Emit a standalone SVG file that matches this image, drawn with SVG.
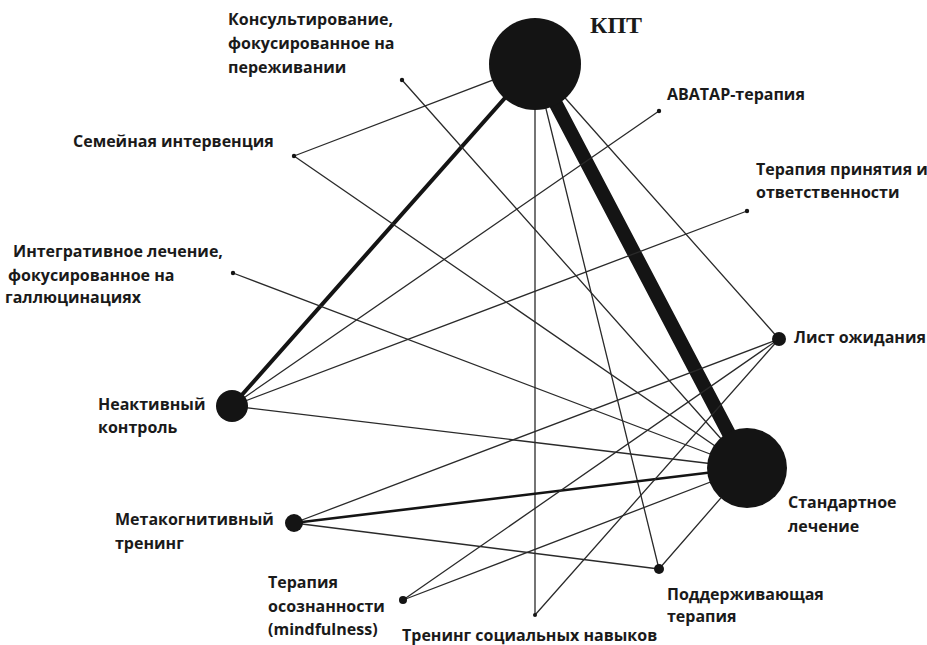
<svg xmlns="http://www.w3.org/2000/svg" width="927" height="645" viewBox="0 0 927 645">
<style>
.lbl{font-family:"Open Sans","Liberation Sans",sans-serif;font-weight:bold;font-size:16px;fill:#1a1a1a}
.kpt{font-family:"Liberation Serif","Times New Roman",serif;font-weight:bold;font-size:24px;fill:#1a1a1a}
.e{stroke:#2a2a2a;stroke-width:1.3;fill:none;stroke-linecap:round}
.n{fill:#141414}
</style>
<rect width="927" height="645" fill="#fff"/>
<g id="connectors">
<line class="e" x1="535" y1="64" x2="747" y2="468" style="stroke-width:14;stroke:#141414"/>
<line class="e" x1="535" y1="64" x2="232" y2="406" style="stroke-width:4;stroke:#141414"/>
<line class="e" x1="535" y1="64" x2="294" y2="156"/>
<line class="e" x1="535" y1="64" x2="535" y2="615"/>
<line class="e" x1="535" y1="64" x2="659" y2="569"/>
<line class="e" x1="535" y1="64" x2="779" y2="339"/>
<line class="e" x1="294" y1="156" x2="747" y2="468"/>
<line class="e" x1="402" y1="80" x2="747" y2="468"/>
<line class="e" x1="233" y1="273" x2="747" y2="468"/>
<line class="e" x1="232" y1="406" x2="659" y2="111"/>
<line class="e" x1="232" y1="406" x2="747" y2="211"/>
<line class="e" x1="232" y1="406" x2="747" y2="468"/>
<line class="e" x1="294" y1="523" x2="747" y2="468" style="stroke-width:2.6;stroke:#141414"/>
<line class="e" x1="294" y1="523" x2="779" y2="339"/>
<line class="e" x1="294" y1="523" x2="659" y2="569"/>
<line class="e" x1="403" y1="600" x2="779" y2="339"/>
<line class="e" x1="403" y1="600" x2="747" y2="468"/>
<line class="e" x1="535" y1="615" x2="779" y2="339"/>
<line class="e" x1="659" y1="569" x2="747" y2="468"/>
</g>
<g id="n-kpt"><circle class="n" cx="535" cy="64" r="46"/><text class="kpt" x="590" y="33">КПТ</text></g>
<g id="n-standard"><circle class="n" cx="747" cy="468" r="40"/><text class="lbl" x="788" y="508">Стандартное</text><text class="lbl" x="788" y="532">лечение</text></g>
<g id="n-inactive"><circle class="n" cx="232" cy="406" r="16"/><text class="lbl" x="98" y="410">Неактивный</text><text class="lbl" x="98" y="433">контроль</text></g>
<g id="n-metacog"><circle class="n" cx="294" cy="523" r="9"/><text class="lbl" x="115" y="525">Метакогнитивный</text><text class="lbl" x="115" y="549">тренинг</text></g>
<g id="n-waitlist"><circle class="n" cx="779" cy="339" r="7"/><text class="lbl" x="794" y="343">Лист ожидания</text></g>
<g id="n-supportive"><circle class="n" cx="659" cy="569" r="5"/><text class="lbl" x="667" y="600">Поддерживающая</text><text class="lbl" x="667" y="622">терапия</text></g>
<g id="n-mindfulness"><circle class="n" cx="403" cy="600" r="4"/><text class="lbl" x="268" y="588">Терапия</text><text class="lbl" x="268" y="612">осознанности</text><text class="lbl" x="268" y="635">(mindfulness)</text></g>
<g id="n-social"><circle class="n" cx="535" cy="615" r="2"/><text class="lbl" x="402" y="641">Тренинг социальных навыков</text></g>
<g id="n-avatar"><circle class="n" cx="659" cy="111" r="2.2"/><text class="lbl" x="667" y="100">АВАТАР-терапия</text></g>
<g id="n-act"><circle class="n" cx="747" cy="211" r="2.2"/><text class="lbl" x="756" y="175">Терапия принятия и</text><text class="lbl" x="756" y="198">ответственности</text></g>
<g id="n-counsel"><circle class="n" cx="402" cy="80" r="2.2"/><text class="lbl" x="228" y="25">Консультирование,</text><text class="lbl" x="228" y="49">фокусированное на</text><text class="lbl" x="228" y="73">переживании</text></g>
<g id="n-family"><circle class="n" cx="294" cy="156" r="2.2"/><text class="lbl" x="73" y="147">Семейная интервенция</text></g>
<g id="n-integr"><circle class="n" cx="233" cy="273" r="2.2"/><text class="lbl" x="13" y="257">Интегративное лечение,</text><text class="lbl" x="8" y="281">фокусированное на</text><text class="lbl" x="5" y="303">галлюцинациях</text></g>
</svg>
